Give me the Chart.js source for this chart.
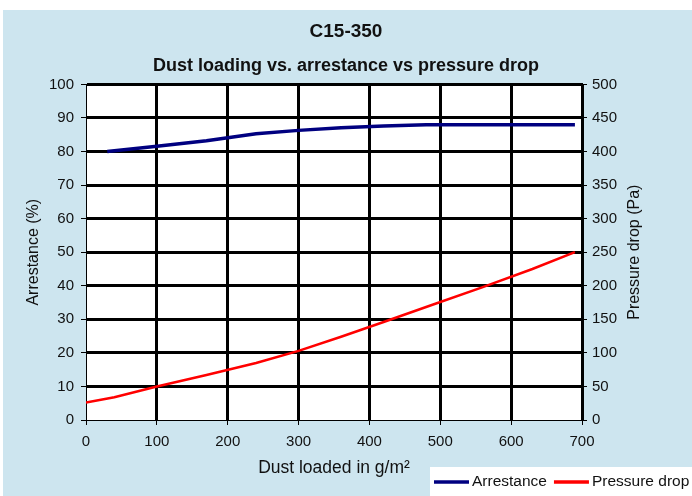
<!DOCTYPE html>
<html>
<head>
<meta charset="utf-8">
<script src="https://cdn.jsdelivr.net/npm/chart.js@4/dist/chart.umd.min.js"></script>
<style>
  html, body { margin: 0; padding: 0; background: #fff; }
</style>
</head>
<body>
<canvas id="chart" width="692" height="496"></canvas>
<script>
// values
const xTicks = [0, 100, 200, 300, 400, 500, 600, 700];
const arrestanceX = [30, 100, 170, 240, 300, 360, 420, 480, 550, 620, 690];
const arrestance = [80, 81.6, 83.2, 85.3, 86.3, 87.1, 87.6, 88, 88, 88, 88];
const pressureX = [0, 40, 100, 170, 240, 300, 360, 420, 490, 560, 630, 690];
const pressureDrop = [26, 34, 50, 67, 85, 103, 124, 146, 172, 198, 225, 250];

const FONT = "'Liberation Sans', Arial, sans-serif";
Chart.defaults.font.family = FONT;
Chart.defaults.color = '#111';

function points(xs, ys) {
    return xs.map(function (x, i) { return { x: x, y: ys[i] }; });
}

// light blue frame + white plot area
const backdrop = {
    id: 'backdrop',
    beforeDraw(chart) {
        const { ctx, chartArea: a } = chart;
        ctx.save();
        ctx.fillStyle = '#ffffff';
        ctx.fillRect(0, 0, chart.width, chart.height);
        ctx.fillStyle = '#cde5ef';
        ctx.fillRect(3, 10, chart.width - 3, chart.height - 10);
        ctx.fillStyle = '#ffffff';
        ctx.fillRect(a.left, a.top, a.right - a.left, a.bottom - a.top);
        ctx.restore();
    }
};

// right axis title reads bottom to top, which chart.js won't do on a right axis
const rightTitle = {
    id: 'rightTitle',
    afterDraw(chart) {
        const a = chart.chartArea;
        const ctx = chart.ctx;
        ctx.save();
        ctx.translate(635, (a.top + a.bottom) / 2);
        ctx.rotate(-Math.PI / 2);
        ctx.font = '16px ' + FONT;
        ctx.fillStyle = '#111';
        ctx.textAlign = 'center';
        ctx.textBaseline = 'middle';
        ctx.fillText('Pressure drop (Pa)', 0, 0);
        ctx.restore();
    }
};

// boxed legend in the bottom right corner
const cornerLegend = {
    id: 'cornerLegend',
    afterDraw(chart) {
        const ctx = chart.ctx;
        const sets = chart.data.datasets;
        ctx.save();
        ctx.fillStyle = '#ffffff';
        ctx.fillRect(430, 467, chart.width - 430, chart.height - 467);
        ctx.font = '15.5px ' + FONT;
        ctx.textBaseline = 'middle';
        let x = 434;
        const y = 482;
        sets.forEach(function (ds) {
            ctx.strokeStyle = ds.borderColor;
            ctx.lineWidth = 3.5;
            ctx.beginPath();
            ctx.moveTo(x, y);
            ctx.lineTo(x + 35, y);
            ctx.stroke();
            ctx.fillStyle = '#111';
            ctx.fillText(ds.label, x + 38, y);
            x += 38 + ctx.measureText(ds.label).width + 7;
        });
        ctx.restore();
    }
};

const gridWidth = function (c) { return c.tick && c.tick.value === 0 ? 1 : 3; };

new Chart(document.getElementById('chart'), {
    type: 'line',
    data: {
        datasets: [{
            label: 'Arrestance',
            data: points(arrestanceX, arrestance),
            borderColor: '#000080',
            borderWidth: 3.5,
            pointRadius: 0,
            yAxisID: 'y'
        }, {
            label: 'Pressure drop',
            data: points(pressureX, pressureDrop),
            borderColor: '#ff0000',
            borderWidth: 2.5,
            pointRadius: 0,
            yAxisID: 'y1'
        }]
    },
    options: {
        responsive: false,
        animation: false,
        layout: { padding: 0 },
        plugins: {
            legend: { display: false },
            tooltip: { enabled: false },
            title: {
                display: true,
                text: 'C15-350',
                color: '#111',
                font: { size: 19, weight: 'bold' },
                padding: { top: 20, bottom: 0 }
            },
            subtitle: {
                display: true,
                text: 'Dust loading vs. arrestance vs pressure drop',
                color: '#111',
                font: { size: 18, weight: 'bold' },
                padding: { top: 12, bottom: 8 }
            }
        },
        scales: {
            x: {
                type: 'linear',
                min: 0,
                max: 700,
                afterFit(s) { s.height = 76; },
                afterBuildTicks(s) { s.ticks = xTicks.map(function (v) { return { value: v }; }); },
                ticks: { font: { size: 15 }, padding: 8, maxRotation: 0 },
                grid: { color: '#000', lineWidth: gridWidth, tickLength: 5, tickWidth: 1, tickColor: '#000' },
                border: { color: '#000', width: 1 },
                title: { display: true, text: 'Dust loaded in g/m²', font: { size: 17.5 }, padding: { top: 4, bottom: 17 } }
            },
            y: {
                position: 'left',
                min: 0,
                max: 100,
                afterFit(s) { s.width = 86; },
                ticks: { stepSize: 10, font: { size: 15 }, padding: 7 },
                grid: { color: '#000', lineWidth: gridWidth, tickLength: 5, tickWidth: 1, tickColor: '#000' },
                border: { color: '#000', width: 1 },
                title: { display: true, text: 'Arrestance (%)', font: { size: 16 }, padding: { top: 24, bottom: 0 } }
            },
            y1: {
                position: 'right',
                min: 0,
                max: 500,
                afterFit(s) { s.width = 110; },
                ticks: { stepSize: 50, font: { size: 15 }, padding: 5 },
                grid: { drawOnChartArea: false, tickLength: 5, tickWidth: 1, tickColor: '#000' },
                border: { color: '#000', width: 2 }
            }
        }
    },
    plugins: [backdrop, rightTitle, cornerLegend]
});
</script>
</body>
</html>
